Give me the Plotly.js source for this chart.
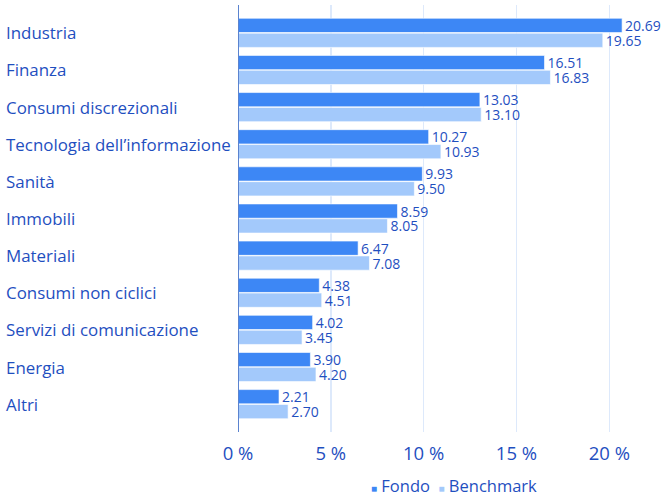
<!DOCTYPE html>
<html><head><meta charset="utf-8">
<script src="https://cdn.plot.ly/plotly-3.0.1.min.js"></script>
<style>body{margin:0;background:#fff}#c{width:670px;height:499px}</style>
</head><body><div id="c"></div>
<script>
const categories = ["Industria","Finanza","Consumi discrezionali","Tecnologia dell’informazione","Sanità","Immobili","Materiali","Consumi non ciclici","Servizi di comunicazione","Energia","Altri"];
const fondo = [20.69,16.51,13.03,10.27,9.93,8.59,6.47,4.38,4.02,3.90,2.21];
const benchmark = [19.65,16.83,13.10,10.93,9.50,8.05,7.08,4.51,3.45,4.20,2.70];
const seriesNames = ["Fondo","Benchmark"];
const tickVals = [0,5,10,15,20];
const tickText = ["0 %","5 %","10 %","15 %","20 %"];

const textCol = "#1f4fbf";
const cFondo = "#3d87f5", cBench = "#a3c9fb";
const font = "Open Sans, Noto Sans, sans-serif";

const mk = (name, vals, col) => ({
  type: "bar", orientation: "h", name: name, x: vals, y: categories,
  marker: {color: col, line: {color: "rgba(255,255,255,0.6)", width: 1}},
  text: vals.map(v => v.toFixed(2)), textposition: "outside", cliponaxis: false,
  constraintext: "none",
  textfont: {color: textCol, size: 14, family: font},
  showlegend: false, hoverinfo: "skip"
});

const data = [mk(seriesNames[0], fondo, cFondo), mk(seriesNames[1], benchmark, cBench)];

const ann = categories.map(c => ({
  xref: "paper", yref: "y", x: -0.542, y: c, xanchor: "left", yanchor: "middle",
  text: c, showarrow: false, font: {size: 16.9, color: textCol, family: font}
}));
ann.push({
  xref: "paper", yref: "paper", x: 0.5, y: -0.126, xanchor: "center", yanchor: "middle", showarrow: false,
  text: '<span style="color:' + cFondo + ';font-size:10px">■</span> ' + seriesNames[0] +
        '  <span style="color:' + cBench + ';font-size:10px">■</span> ' + seriesNames[1],
  font: {size: 16.5, color: textCol, family: font}
});

const layout = {
  width: 670, height: 499,
  margin: {l: 238, r: 0, t: 5, b: 67},
  barmode: "group", bargap: 0.2, bargroupgap: 0.04,
  paper_bgcolor: "#fff", plot_bgcolor: "#fff",
  font: {family: font, color: textCol},
  xaxis: {range: [0, 23.27], tickmode: "array", tickvals: tickVals, ticktext: tickText, showgrid: true,
          gridcolor: "#dde9fb", gridwidth: 1.5, zeroline: false, showline: false,
          ticklabelstandoff: 8,
          tickfont: {size: 18.5, color: textCol, family: font}, ticks: "", ticklen: 0},
  yaxis: {range: [10.75, -0.75], showticklabels: false, showgrid: false, zeroline: false,
          showline: false, type: "category"},
  shapes: [{type: "line", xref: "x", yref: "paper", x0: 0, x1: 0, y0: 0, y1: 1,
            line: {color: "#5b83cf", width: 2}}],
  annotations: ann
};
Plotly.newPlot("c", data, layout, {staticPlot: true, displayModeBar: false});
</script></body></html>
